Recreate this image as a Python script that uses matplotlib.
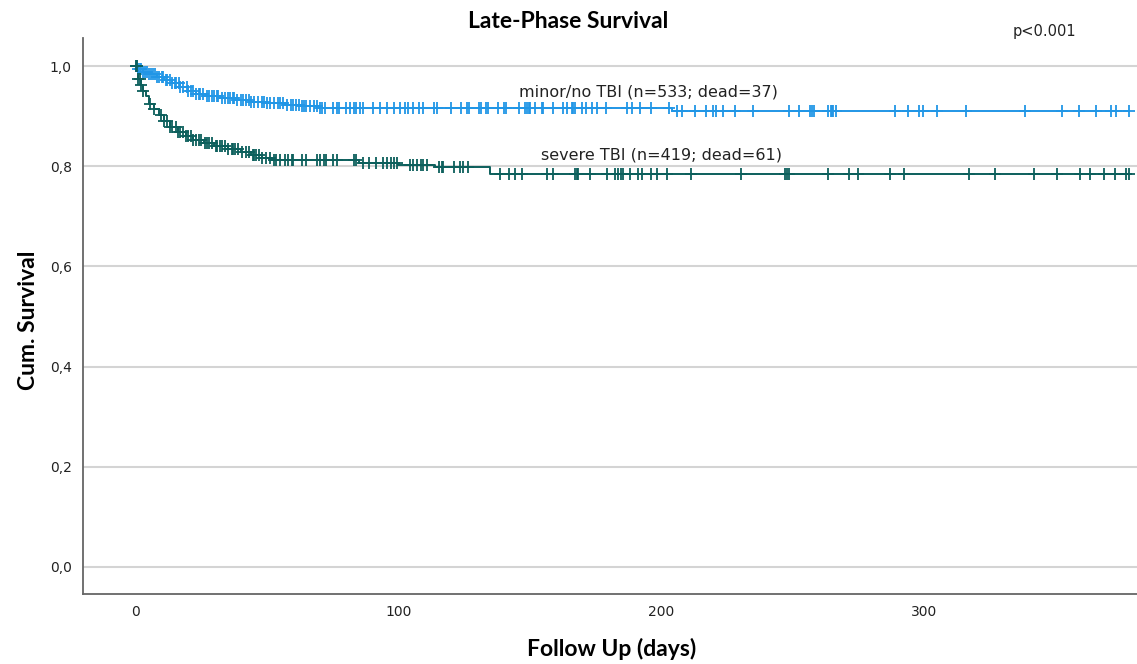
import numpy as np
import matplotlib.pyplot as plt

# step curves (time in days, cumulative survival after the step)
minor_t = [0, 1, 3, 5, 8, 11, 14, 17, 20, 23, 27, 32, 38, 44, 50, 57, 63, 70, 204]
minor_s = [1.0, 0.994, 0.988, 0.984, 0.978, 0.972, 0.966, 0.958, 0.950, 0.944, 0.940,
           0.936, 0.932, 0.929, 0.926, 0.923, 0.920, 0.916, 0.910]
severe_t = [0, 1, 2, 3, 4, 5, 7, 9, 11, 13, 16, 19, 22, 26, 30, 35, 40, 44, 48, 52,
            85, 100, 114, 135]
severe_s = [1.0, 0.975, 0.962, 0.950, 0.940, 0.925, 0.915, 0.902, 0.890, 0.878, 0.868,
            0.860, 0.852, 0.846, 0.840, 0.834, 0.828, 0.822, 0.816, 0.812, 0.806,
            0.802, 0.798, 0.784]

# censored observations
minor_cens = [0, 0.5, 1, 1.5, 2, 3, 3.5, 4.5, 5, 6, 6.5, 7.5, 8, 9, 10, 10.5, 11.5, 12, 13,
              14, 15, 15.5, 16.5, 17, 18, 19.5, 20, 21, 22, 23, 24, 24.5, 25.5, 27, 28, 29,
              30, 31, 31.5, 33, 34, 35, 36, 37, 37.5, 38.5, 40, 41, 42, 43, 44, 45, 46.5,
              48, 49, 50, 51, 52.5, 54, 55, 56, 57.5, 59, 60, 61, 62, 63.5, 64, 65, 66.5,
              68, 69, 70, 71, 72, 75, 76.5, 77.5, 80, 81.5, 83, 84, 85.5, 86.5, 90.5, 93,
              95.5, 98.5, 100.5, 102.5, 103.5, 105.5, 108, 109.5, 113.5, 114.5, 120, 124,
              126, 127, 130.5, 131.5, 133.5, 134, 138, 140, 141, 146, 148, 149, 149.5, 150,
              152, 154.5, 155, 159, 162.5, 164, 166, 166.5, 167, 170, 171.5, 173.5, 175.5,
              179, 187, 189, 192, 196, 203, 206, 208, 213, 217, 219.5, 221, 223.5, 228,
              235, 248.5, 252.5, 256.5, 257.5, 258, 263.5, 264.5, 265, 265.5, 266.5, 289,
              294, 298, 299.5, 305, 316, 338.5, 352.5, 359, 365.5, 371, 373, 378]
severe_cens = [0, 0.5, 1, 1.5, 2, 3, 5.5, 7, 9.5, 11, 12, 13, 14, 15.5, 16, 17, 18, 19, 20,
               21, 22, 23, 24, 25, 26.5, 27, 28, 29, 30.5, 31, 32, 33, 34, 35, 36.5, 37,
               38, 39, 40.5, 42, 43, 44.5, 45, 46, 47, 48, 49.5, 51, 52.5, 53.5, 55, 57,
               58, 59.5, 60, 63.5, 65, 69, 70, 71.5, 72.5, 75, 76.5, 83, 84, 86.5, 89,
               91.5, 94, 95.5, 97, 98.5, 99.5, 104.5, 105.5, 107, 108.5, 109.5, 111, 115.5,
               116.5, 117, 121, 123.5, 124.5, 126.5, 138.5, 142, 144.5, 147, 156.5, 159,
               167, 168, 168.5, 173, 179.5, 182.5, 183.5, 184.5, 185.5, 188, 191, 192.5,
               196, 198.5, 202, 211.5, 230.5, 247, 248, 248.5, 263.5, 271.5, 275, 287,
               292.5, 317, 327, 342, 350.5, 359.5, 363, 368.5, 372.5, 377, 378]

groups = [
    ('minor/no TBI (n=533; dead=37)', minor_t, minor_s, minor_cens, '#2196e6', (195, 0.948)),
    ('severe TBI (n=419; dead=61)', severe_t, severe_s, severe_cens, '#0c5f5c', (200, 0.822)),
]

fig = plt.figure(figsize=(11.37, 6.64), dpi=100)
ax = fig.add_axes([0.073, 0.1054, 0.927, 0.8374])

for label, t, s, cens, col, pos in groups:
    t = np.asarray(t, float)
    s = np.asarray(s, float)
    cens = np.asarray(cens, float)
    tt = np.append(t, cens.max())
    ss = np.append(s, s[-1])
    ax.plot(tt, ss, drawstyle='steps-post', color=col, lw=1.4, zorder=3)
    idx = np.searchsorted(t, cens, side='right') - 1
    ax.plot(cens, s[idx], ls='none', marker='+', ms=9, mew=1.3, color=col, zorder=4)
    ax.text(pos[0], pos[1], label, ha='center', va='center', fontsize=11.5,
            color='#222222')

ax.set_xlim(-20, 381)
ax.set_ylim(-0.054, 1.056)
ax.set_xticks([0, 100, 200, 300])
ax.set_yticks([0, 0.2, 0.4, 0.6, 0.8, 1.0])
ax.set_yticklabels(['0,0', '0,2', '0,4', '0,6', '0,8', '1,0'])
ax.tick_params(length=0, labelsize=10, colors='#222222', pad=8)
ax.grid(axis='y', color='#d4d4d4', lw=1.5)
ax.set_axisbelow(True)
for sp in ['top', 'right']:
    ax.spines[sp].set_visible(False)
for sp in ['left', 'bottom']:
    ax.spines[sp].set_color('#666666')
    ax.spines[sp].set_linewidth(1.3)

fig.text(0.5, 0.968, 'Late-Phase Survival', ha='center', va='center',
         fontsize=16.5, fontweight='bold', family='Lato')
fig.text(0.919, 0.953, 'p<0.001', ha='center', va='center', fontsize=10.5,
         color='#222222')
fig.text(0.538, 0.022, 'Follow Up (days)', ha='center', va='center',
         fontsize=16.5, fontweight='bold', family='Lato')
fig.text(0.025, 0.518, 'Cum. Survival', ha='center', va='center', rotation=90,
         fontsize=16.5, fontweight='bold', family='Lato')

fig.savefig('out.png', dpi=100)
